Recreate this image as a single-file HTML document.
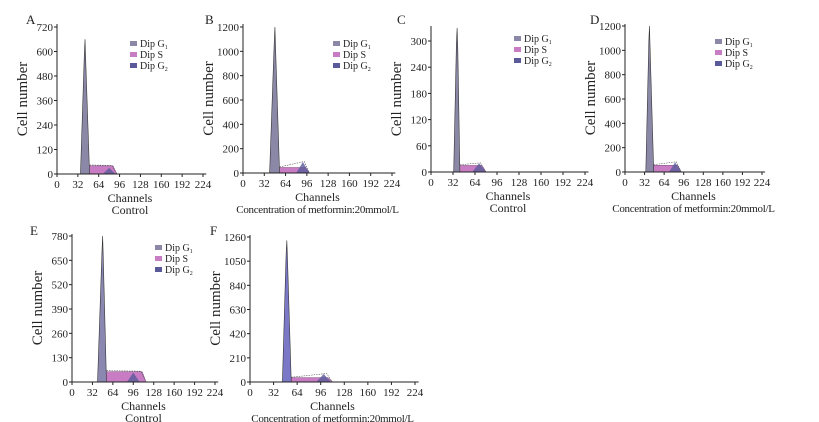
<!DOCTYPE html>
<html><head><meta charset="utf-8"><style>
body{margin:0;background:#fff;}
svg{display:block;font-family:"Liberation Serif",serif;}
</style></head><body>
<svg id="fig" width="819" height="422" viewBox="0 0 819 422" xmlns="http://www.w3.org/2000/svg"></svg>
<script>
// ---- data (channel units / cell counts) ----
const panelIds = ["A","B","C","D","E","F"];
const subtitles = ["Control","Concentration of metformin:20mmol/L","Control","Concentration of metformin:20mmol/L","Control","Concentration of metformin:20mmol/L"];
const xTicks = [0,32,64,96,128,160,192,224];
const yTicksA = [0,120,240,360,480,600,720];
const yTicksB = [0,200,400,600,800,1000,1200];
const yTicksC = [0,60,120,180,240,300];
const yTicksD = [0,200,400,600,800,1000,1200];
const yTicksE = [0,130,260,390,520,650,780];
const yTicksF = [0,210,420,630,840,1050,1260];
// G1 peak: [start, peak, end, height]
const g1A=[36,43,50,660], g1B=[40,48,55,1200], g1C=[33,38,42,330], g1D=[34,40,47,1200], g1E=[40,48,54,780], g1F=[44,50,56,1230];
// S phase: [start, end, height]
const sA=[44,92,40], sB=[50,100,45], sC=[38,80,15], sD=[40,92,55], sE=[46,116,55], sF=[50,112,38];
// G2 bump: [center, height]
const g2A=[80,30], g2B=[90,90], g2C=[70,20], g2D=[82,80], g2E=[96,50], g2F=[100,70];

// ---- layout ----
const layouts = [
 {ox:57,x224:203,oy:174,yt:yTicksA,ytop:27,atop:24,lx:26,ly:24,leg:[130,47],g1:g1A,s:sA,g2:g2A,c1:"#8a88a6"},
 {ox:243,x224:392,oy:173,yt:yTicksB,ytop:27,atop:24,lx:205,ly:24,leg:[333,47],g1:g1B,s:sB,g2:g2B,c1:"#8a88a6"},
 {ox:431,x224:585,oy:172,yt:yTicksC,ytop:41,atop:26,lx:397,ly:24,leg:[514,42],g1:g1C,s:sC,g2:g2C,c1:"#8a88a6"},
 {ox:625,x224:762,oy:172,yt:yTicksD,ytop:26,atop:24,lx:590,ly:24,leg:[715,45],g1:g1D,s:sD,g2:g2D,c1:"#8a88a6"},
 {ox:72,x224:215,oy:382,yt:yTicksE,ytop:236,atop:234,lx:30,ly:235,leg:[155,251],g1:g1E,s:sE,g2:g2E,c1:"#8a88b0"},
 {ox:250,x224:415,oy:382,yt:yTicksF,ytop:237,atop:235,lx:210,ly:235,leg:null,g1:g1F,s:sF,g2:g2F,c1:"#7c78c8"}
];
const NS="http://www.w3.org/2000/svg";
const svg=document.getElementById("fig");
function mk(tag,attrs,parent){const e=document.createElementNS(NS,tag);for(const k in attrs)e.setAttribute(k,attrs[k]);(parent||svg).appendChild(e);return e;}

layouts.forEach((L,i)=>{
  const g=mk("g",{});
  
  
  const ymax=L.yt[L.yt.length-1];
  const xs=v=>L.ox+(L.x224-L.ox)*v/224;
  const ys=v=>L.oy-(L.oy-L.ytop)*v/ymax;
  // S phase
  const s=L.s;
  const sp=mk("polygon",{points:[[xs(s[0]),ys(0)],[xs(s[0]+4),ys(s[2])],[xs(s[1]-6),ys(s[2])],[xs(s[1]),ys(0)]].map(p=>p.join(",")).join(" "),fill:"#c87cc4",stroke:"#7a4a7a","stroke-width":0.5},g);
  
  
  // G2
  const g2=L.g2;
  const gp=mk("polygon",{points:[[xs(g2[0]-10),ys(0)],[xs(g2[0]),ys(g2[1])],[xs(g2[0]+10),ys(0)]].map(p=>p.join(",")).join(" "),fill:"#5a5a9a",opacity:0.8},g);
  
  
  // G1
  const g1=L.g1;
  const p1=mk("polygon",{points:[[xs(g1[0]),ys(0)],[xs(g1[1]-1),ys(g1[3]*0.9)],[xs(g1[1]),ys(g1[3])],[xs(g1[1]+1),ys(g1[3]*0.85)],[xs(g1[2]),ys(0)]].map(p=>p.join(",")).join(" "),fill:L.c1,stroke:"#333","stroke-width":0.6},g);
  
  
  // envelope
  const env=mk("polyline",{points:[[xs(g1[2]),ys(s[2]*1.1)],[xs(s[1]-8),ys(Math.max(s[2],g2[1])*1.05)],[xs(s[1]),ys(0)]].map(p=>p.join(",")).join(" "),fill:"none",stroke:"#555","stroke-width":0.6,"stroke-dasharray":"1.5 1"},g);
  
  
  // axes
  mk("line",{x1:L.ox,y1:L.atop,x2:L.ox,y2:L.oy,stroke:"#222","stroke-width":1},g);
  mk("line",{x1:L.ox,y1:L.oy,x2:xs(229),y2:L.oy,stroke:"#222","stroke-width":1},g);
  L.yt.forEach(v=>{
    mk("line",{x1:L.ox-3,y1:ys(v),x2:L.ox,y2:ys(v),stroke:"#222"},g);
    const t=mk("text",{x:L.ox-4,y:ys(v)+4,"font-size":11,"text-anchor":"end",fill:"#222"},g);t.textContent=v;
    
    
  });
  xTicks.forEach(v=>{
    mk("line",{x1:xs(v),y1:L.oy,x2:xs(v),y2:L.oy+3,stroke:"#222"},g);
    const t=mk("text",{x:xs(v),y:L.oy+14,"font-size":11,"text-anchor":"middle",fill:"#222"},g);t.textContent=v;
    
    
  });
  const cx=xs(112);
  const xt=mk("text",{x:cx,y:L.oy+28,"font-size":12,"text-anchor":"middle",fill:"#222"},g);xt.textContent="Channels";
  
  
  const st=mk("text",{x:cx,y:L.oy+40,"font-size":(i%2?11:12),"text-anchor":"middle",fill:"#222","letter-spacing":(i%2?-0.3:0)},g);st.textContent=subtitles[i];
  
  
  const my=(L.atop+L.oy)/2, tx=L.ox-30;
  const yt=mk("text",{x:tx,y:my,"font-size":15,"text-anchor":"middle",fill:"#222",transform:`rotate(-90 ${tx} ${my})`},g);yt.textContent="Cell number";
  
  
  const pl=mk("text",{x:L.lx,y:L.ly,"font-size":13,fill:"#222"},g);pl.textContent=panelIds[i];
  
  
  if(L.leg){
    const lg=mk("g",{},g);
    
    
    const items=[["Dip G","1","#8a88a6"],["Dip S","","#c87cc4"],["Dip G","2","#5a5a9a"]];
    items.forEach((it,k)=>{
      const y=L.leg[1]+k*11;
      mk("rect",{x:L.leg[0],y:y-6,width:7,height:5,fill:it[2]},lg);
      const t=mk("text",{x:L.leg[0]+10,y:y,"font-size":10,fill:"#222"},lg);
      
      
      t.textContent=it[0];
      if(it[1]){const ts=mk("tspan",{"font-size":6,dy:2},t);ts.textContent=it[1];}
    });
  }
});
</script>
</body></html>
